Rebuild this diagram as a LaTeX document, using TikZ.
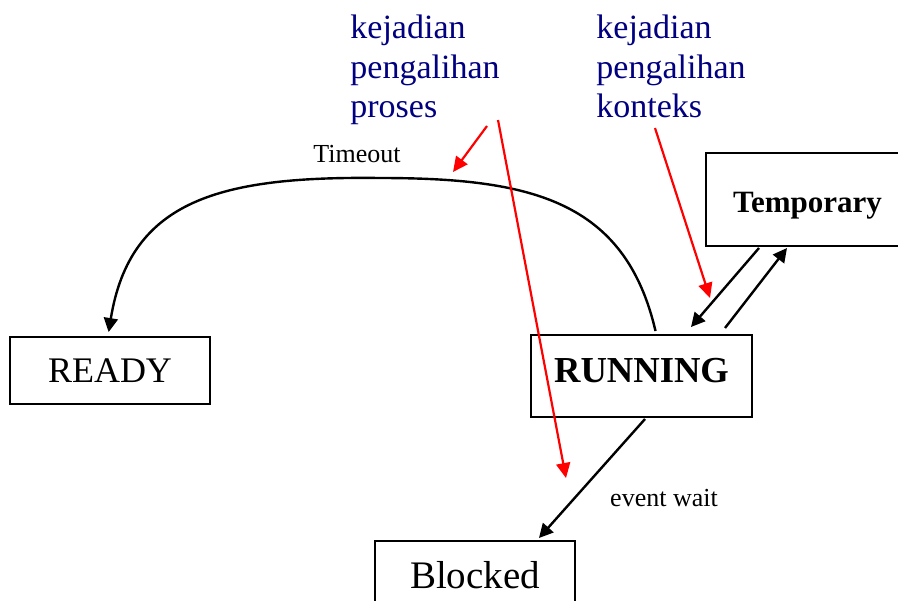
\documentclass[tikz,border=0pt]{standalone}
\usepackage{fontspec}
\setmainfont{Liberation Serif}
\usepackage{xcolor}
\usetikzlibrary{arrows.meta}

\definecolor{notenavy}{RGB}{0,0,128}

\begin{document}
\begin{tikzpicture}[
      x=0.5pt, y=-0.5pt,
      state/.style={draw, line width=1pt, inner sep=0pt},
      arr/.style={line width=1.2pt, -{Triangle[length=7pt, width=7pt]}},
      redarr/.style={red, line width=1.1pt, -{Triangle[length=7.5pt, width=7pt]}},
      note/.style={text=notenavy, align=left, anchor=north west, inner sep=0pt,
        font=\fontsize{17}{19.75}\selectfont},
      lbl/.style={font=\fontsize{13}{15}\selectfont}
    ]
    \useasboundingbox (0,0) rectangle (898,600);

    % process states
    \node[state, minimum width=100pt, minimum height=33.5pt,
      font=\fontsize{18}{20}\selectfont] (ready) at (110,370.5) {READY};
    \node[state, minimum width=110.5pt, minimum height=41pt, text height=12pt, text depth=6pt,
      font=\bfseries\fontsize{18.3}{20}\selectfont] (running) at (641.5,376) {RUNNING};
    \node[state, minimum width=101.5pt, minimum height=46.5pt, text height=13.2pt, text depth=0pt,
      font=\bfseries\fontsize{15.5}{18}\selectfont] (temp) at (807.5,199.5) {Temporary};
    \node[state, anchor=north, minimum width=100pt, text height=23.9pt, text depth=20pt,
      font=\fontsize{19.5}{22}\selectfont] (blocked) at (475,540) {Blocked};

    % transitions
    \draw[arr, shorten >=2pt] ([xshift=7pt, yshift=1.5pt]running.north)
      .. controls (625,200) and (530,178) .. (380,178)
      .. controls (220,176) and (130,200) .. ([xshift=-1pt]ready.north);
    \node[lbl] (timeout) at (357,154) {Timeout};
    \draw[arr] ([xshift=27pt, yshift=-0.5pt]temp.south west)
      -- ([xshift=80.5pt, yshift=3.5pt]running.north west);
    \draw[arr] ([xshift=97.5pt, yshift=3pt]running.north west)
      -- ([xshift=41pt, yshift=-0.5pt]temp.south west);
    \draw[arr] ([xshift=57.5pt, yshift=-0.5pt]running.south west)
      -- ([xshift=82.5pt, yshift=1pt]blocked.north west);
    \node[lbl] (wait) at (664,498) {event wait};

    % switching events
    \node[note] (procnote) at (350,15) {kejadian\\pengalihan\\proses};
    \node[note] (ctxnote) at (596,15) {kejadian\\pengalihan\\konteks};
    \coordinate (p1) at (487,126);
    \coordinate (p1e) at (453,172);
    \coordinate (p2) at (498,120);
    \coordinate (p2e) at (566,478);
    \coordinate (c1) at (655,128);
    \coordinate (c1e) at (710,298);
    \draw[redarr] (p1) -- (p1e);
    \draw[redarr] (p2) -- (p2e);
    \draw[redarr] (c1) -- (c1e);
  \end{tikzpicture}
\end{document}
